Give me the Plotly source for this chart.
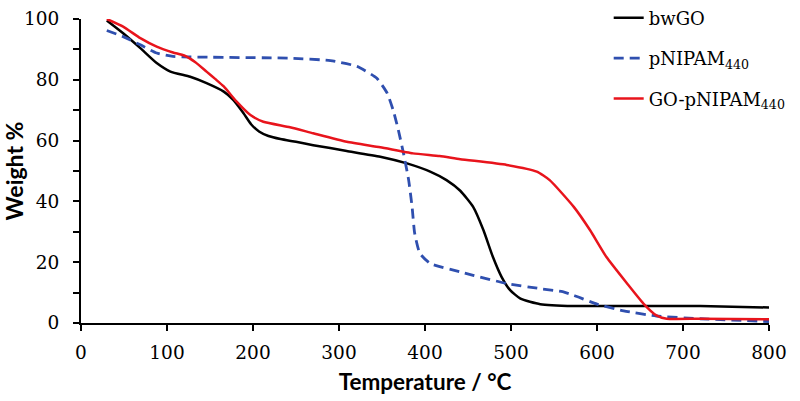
import plotly.graph_objects as go

# bwGO
bw_T = [30, 49, 69, 88, 104, 127, 146, 166, 177, 189, 198, 207, 218, 232, 250, 270, 309, 348, 379, 406, 425, 441, 456, 468, 479, 489, 499, 511, 534, 573, 650, 720, 800]
bw_W = [99.5, 95.3, 90.4, 85.5, 82.7, 81, 78.9, 76.1, 73.4, 69, 65.3, 63, 61.5, 60.5, 59.6, 58.5, 56.6, 54.7, 52.5, 49.8, 47, 43.5, 38.2, 30.5, 21.7, 15.2, 10.8, 8, 6.2, 5.6, 5.6, 5.6, 5.1]

# pNIPAM440
pn_T = [30, 49, 69, 88, 107, 127, 243, 290, 321, 344, 356, 363, 369, 375, 381, 385, 388, 394, 406, 441, 456, 495, 534, 560, 573, 600, 631, 669, 720, 800]
pn_W = [96.2, 94.2, 91.5, 88.8, 87.7, 87.5, 87.1, 86.3, 84.4, 80.5, 75.6, 70, 63.5, 55.8, 47, 38.2, 29.5, 22.9, 19.6, 16.8, 15.7, 13, 11.3, 10.3, 9.1, 6.2, 4, 2.3, 1.4, 0.5]

# GO-pNIPAM440
go_T = [30, 49, 69, 88, 107, 120, 133, 146, 156, 166, 181, 197, 212, 243, 270, 309, 348, 386, 417, 441, 495, 530, 545, 573, 592, 611, 635, 654, 669, 681, 720, 800]
go_W = [100, 97.5, 93.7, 90.9, 89, 88, 85.8, 82.7, 80.3, 77.8, 72.8, 68.4, 66.2, 64.4, 62.4, 59.6, 57.8, 55.8, 54.9, 53.9, 52, 49.8, 47, 38.2, 30.5, 21.7, 13, 6.4, 2.5, 1.4, 1.4, 1.2]

names = ["bwGO", "pNIPAM<sub>440</sub>", "GO-pNIPAM<sub>440</sub>"]

serif = "DejaVu Serif"
sans = "Lato"
fig = go.Figure()
fig.add_trace(go.Scatter(x=bw_T, y=bw_W, name=names[0], mode="lines", legendgroup="a",
                         line=dict(color="#000000", width=2.5, shape="spline", smoothing=0.5)))
fig.add_trace(go.Scatter(x=pn_T, y=pn_W, name=names[1], mode="lines", legendgroup="b",
                         line=dict(color="#2F4FAF", width=2.8, dash="10px,6px", shape="spline", smoothing=0.5)))
fig.add_trace(go.Scatter(x=go_T, y=go_W, name=names[2], mode="lines", legendgroup="c",
                         line=dict(color="#E8141C", width=2.5, shape="spline", smoothing=0.5)))

fig.update_layout(
    width=800, height=401,
    margin=dict(l=81, r=31, t=19, b=78, autoexpand=False),
    paper_bgcolor="white", plot_bgcolor="white",
    font=dict(family=serif, size=18, color="black"),
    legend=dict(x=0.767, y=1.064, xanchor="left", yanchor="top", tracegroupgap=14,
                font=dict(family=serif, size=18), bgcolor="rgba(0,0,0,0)"),
    xaxis=dict(range=[0, 800], tick0=0, dtick=100, showgrid=False, zeroline=False,
               showline=True, linecolor="black", linewidth=2, ticks="outside", ticklen=6,
               tickwidth=2, tickcolor="black", ticklabelstandoff=6, automargin=False,
               tickfont=dict(family=serif, size=18.5),
               title=dict(text="Temperature / °C", font=dict(family=sans, size=22.5, weight="bold"), standoff=12)),
    yaxis=dict(range=[0, 100], tick0=0, dtick=20, showgrid=False, zeroline=False,
               showline=True, linecolor="black", linewidth=2, ticks="outside", ticklen=6,
               tickwidth=2, tickcolor="black", ticklabelstandoff=10, automargin=False,
               tickfont=dict(family=serif, size=18.5),
               minor=dict(dtick=10, ticks="outside", ticklen=6, tickwidth=2, tickcolor="black", showgrid=False),
               title=dict(text="Weight %", font=dict(family=sans, size=23, weight="bold"), standoff=0)),
)

fig.write_html("out.html", config={"displayModeBar": False},
               post_script="document.body.style.margin='0';")
